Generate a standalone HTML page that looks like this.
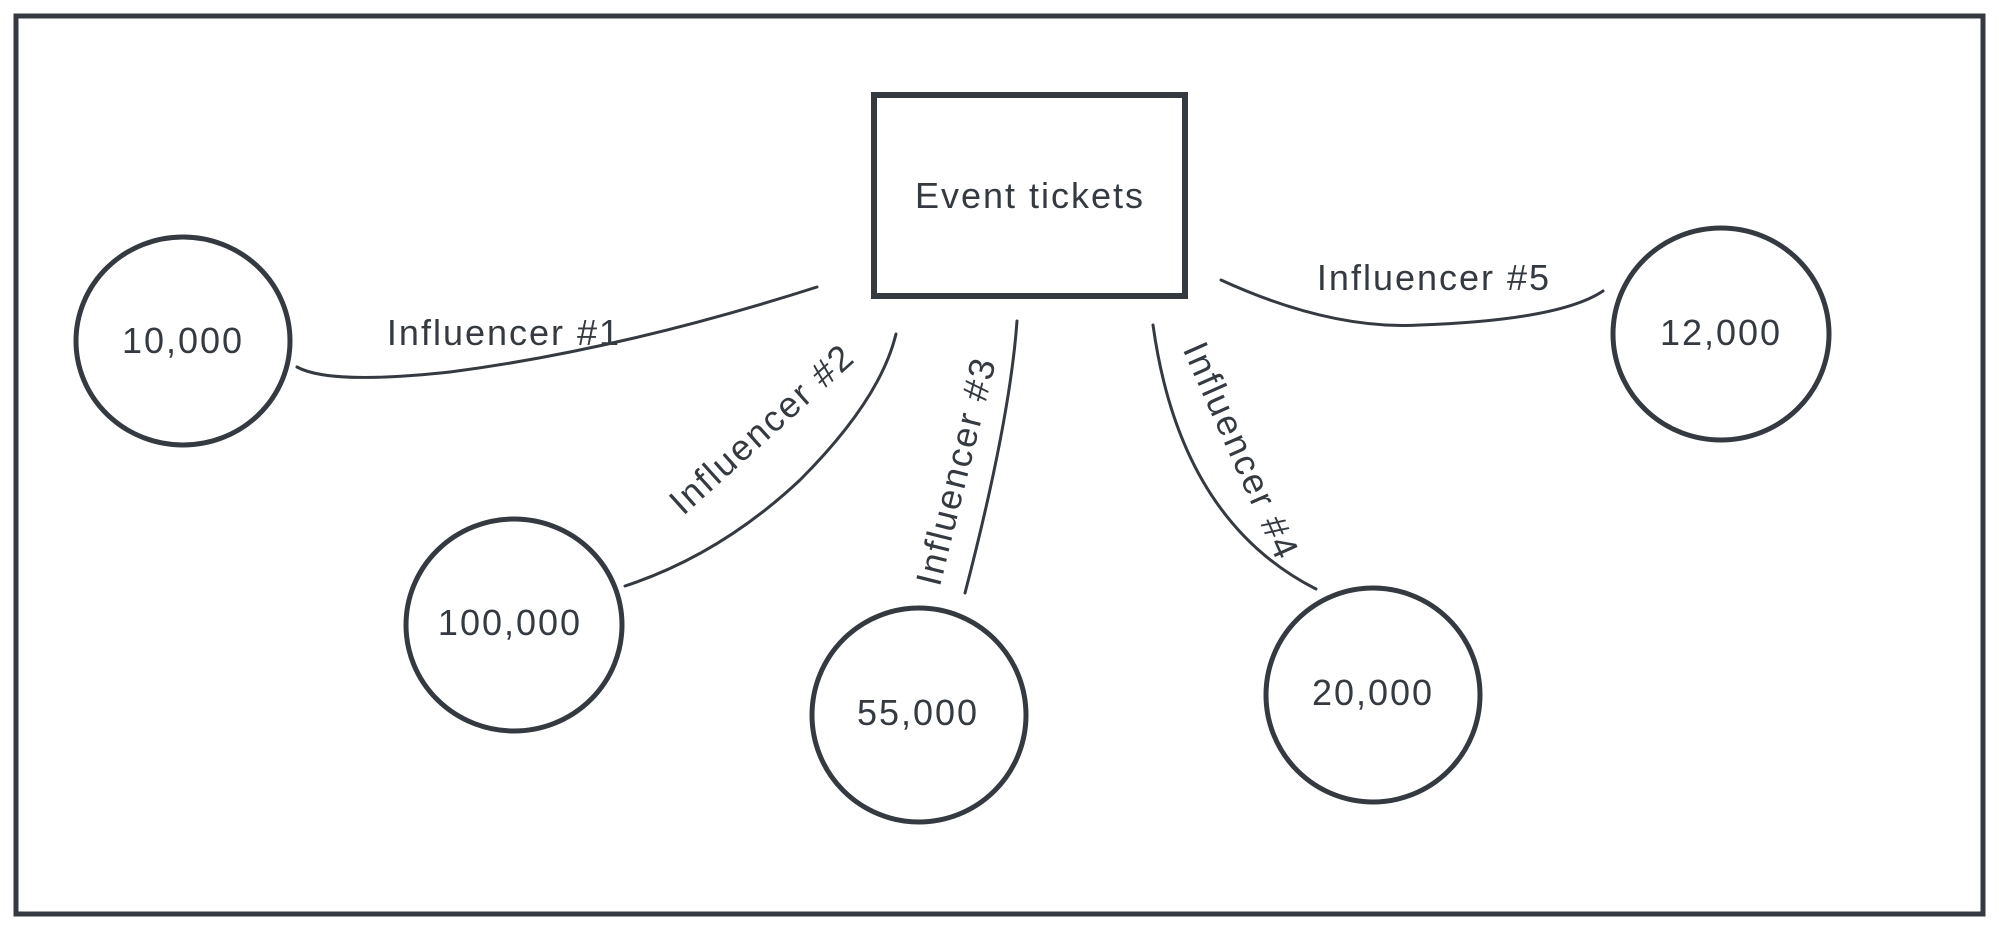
<!DOCTYPE html>
<html><head><style>
html,body{margin:0;padding:0;background:#fff;}
svg{display:block;}
text{font-family:"Liberation Sans",sans-serif;fill:#343a40;letter-spacing:2px;}
</style></head><body>
<svg width="1999" height="927" viewBox="0 0 1999 927" xmlns="http://www.w3.org/2000/svg">
<g fill="none" stroke="#343a40" stroke-linecap="round">
<rect x="16" y="16" width="1967" height="898" stroke-width="5"/>
<rect x="874" y="95" width="311" height="201" stroke-width="6"/>
<ellipse cx="183" cy="341" rx="107" ry="104" stroke-width="5"/>
<ellipse cx="514" cy="625" rx="108" ry="106" stroke-width="5"/>
<ellipse cx="919" cy="715" rx="107" ry="107" stroke-width="5"/>
<ellipse cx="1373" cy="695" rx="107" ry="107" stroke-width="5"/>
<ellipse cx="1721" cy="334" rx="108" ry="106" stroke-width="5"/>
<g stroke-width="3">
<path d="M297 367 Q330 385 450 372 Q620 350 817 287"/>
<path d="M625 586 Q720 555 800 480 Q880 400 896 334"/>
<path d="M965 593 Q1010 420 1017 321"/>
<path d="M1153 325 Q1180 520 1316 589"/>
<path d="M1221 280 Q1330 330 1420 325 Q1560 320 1603 291"/>
</g>
</g>
<g font-size="36">
<text x="1030" y="208" text-anchor="middle">Event tickets</text>
<text x="183" y="353" text-anchor="middle">10,000</text>
<text x="510" y="635" text-anchor="middle">100,000</text>
<text x="918" y="725" text-anchor="middle">55,000</text>
<text x="1373" y="705" text-anchor="middle">20,000</text>
<text x="1721" y="345" text-anchor="middle">12,000</text>
<text x="504" y="345" text-anchor="middle">Influencer #1</text>
<text x="1434" y="290" text-anchor="middle">Influencer #5</text>
<text transform="translate(770,438) rotate(-42)" text-anchor="middle">Influencer #2</text>
<text transform="translate(968,474) rotate(-76)" text-anchor="middle">Influencer #3</text>
<text transform="translate(1230,456) rotate(66)" text-anchor="middle">Influencer #4</text>
</g>
</svg>
</body></html>
